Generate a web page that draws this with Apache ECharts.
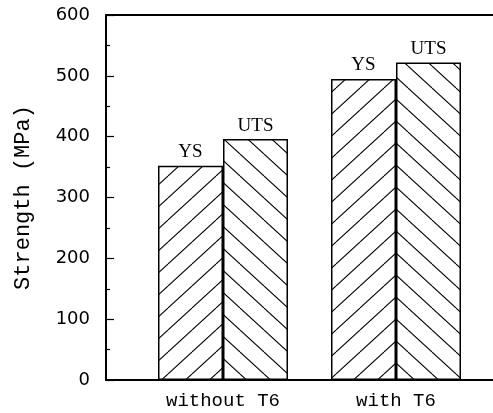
<!DOCTYPE html>
<html>
<head>
<meta charset="utf-8">
<script src="https://cdn.jsdelivr.net/npm/echarts@6/dist/echarts.min.js"></script>
<style>html,body{margin:0;padding:0;background:#fff}#c{width:493px;height:413px}</style>
</head>
<body>
<div id="c"></div>
<script>
const categories = ['without T6', 'with T6'];
const seriesNames = ['YS', 'UTS'];
const ysValues = [352, 495];
const utsValues = [396, 522];
const yTicks = [0, 100, 200, 300, 400, 500, 600];

function hatch(dir) {
  const w = 24, h = 22;
  const c = document.createElement('canvas');
  c.width = w; c.height = h;
  const g = c.getContext('2d');
  g.fillStyle = '#fff'; g.fillRect(0, 0, w, h);
  g.strokeStyle = '#000'; g.lineWidth = 1.1;
  for (let k = -1; k <= 1; k++) {
    g.beginPath();
    if (dir > 0) { g.moveTo(k * w, h); g.lineTo(k * w + w, 0); }
    else { g.moveTo(k * w, 0); g.lineTo(k * w + w, h); }
    g.stroke();
  }
  return c;
}

const chart = echarts.init(document.getElementById('c'), null, {renderer: 'canvas'});
const XMIN = 0.3237, XMAX = 2.5607;
const mk = vals => vals.map((v, i) => [i + 1, v]);
chart.setOption({
  animation: false,
  backgroundColor: '#fff',
  grid: {left: 106, right: 0, top: 15, bottom: 33},
  xAxis: [{
    type: 'value', min: XMIN, max: XMAX,
    axisLine: {show: true, lineStyle: {color: '#000', width: 2}},
    axisTick: {show: false}, splitLine: {show: false},
    axisLabel: {
      customValues: [1, 2],
      formatter: v => categories[Math.round(v) - 1],
      color: '#000', fontFamily: 'Liberation Mono', fontSize: 19, margin: 11
    }
  }, {
    type: 'value', min: XMIN, max: XMAX, position: 'top',
    axisLine: {show: true, lineStyle: {color: '#000', width: 2}},
    axisTick: {show: false}, axisLabel: {show: false}, splitLine: {show: false}
  }],
  yAxis: {
    type: 'value', min: yTicks[0], max: yTicks[yTicks.length - 1], interval: 100,
    name: 'Strength (MPa)', nameLocation: 'middle', nameGap: 72,
    nameTextStyle: {color: '#000', fontFamily: 'Liberation Mono', fontSize: 22},
    axisLine: {show: true, lineStyle: {color: '#000', width: 2}},
    axisTick: {show: true, inside: true, length: 8, lineStyle: {color: '#000', width: 1.2}},
    minorTick: {show: true, splitNumber: 2, length: 4, lineStyle: {color: '#000', width: 1.2}},
    splitLine: {show: false},
    axisLabel: {color: '#000', fontFamily: 'DejaVu Sans', fontSize: 18, margin: 16}
  },
  series: [
    {name: seriesNames[0], type: 'bar', data: mk(ysValues), barWidth: 65, barGap: '0%',
     itemStyle: {color: {image: hatch(1), repeat: 'repeat'}, borderColor: '#000', borderWidth: 1.5},
     label: {show: true, position: 'top', distance: 4, formatter: p => p.seriesName,
             color: '#000', fontFamily: 'Liberation Serif', fontSize: 19}},
    {name: seriesNames[1], type: 'bar', data: mk(utsValues), barWidth: 65, barGap: '0%',
     itemStyle: {color: {image: hatch(-1), repeat: 'repeat'}, borderColor: '#000', borderWidth: 1.5},
     label: {show: true, position: 'top', distance: 4, formatter: p => p.seriesName,
             color: '#000', fontFamily: 'Liberation Serif', fontSize: 19}}
  ]
});
</script>
</body>
</html>
